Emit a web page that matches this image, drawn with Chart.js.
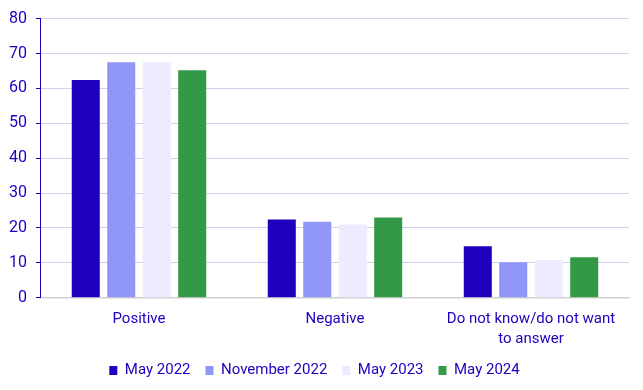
<!DOCTYPE html>
<html>
<head>
<meta charset="utf-8">
<script src="https://cdn.jsdelivr.net/npm/chart.js@4"></script>
<style>
  html, body { margin: 0; padding: 0; background: #fff; }
  #wrap { width: 643px; height: 390px; }
</style>
</head>
<body>
<div id="wrap"><canvas id="myChart"></canvas></div>
<script>
const categories = ['Positive', 'Negative', ['Do not know/do not want', 'to answer']];
const seriesNames = ['May 2022', 'November 2022', 'May 2023', 'May 2024'];
const may2022 = [62.4, 22.4, 14.8];
const nov2022 = [67.5, 21.8, 10.2];
const may2023 = [67.5, 21.0, 10.8];
const may2024 = [65.2, 23.0, 11.6];
const yTicks = [0, 10, 20, 30, 40, 50, 60, 70, 80];

const colors = ['#1e00be', '#9096f5', '#ecebff', '#339946'];
const textColor = '#1e00be';

Chart.defaults.font.family = 'Roboto, sans-serif';
Chart.defaults.font.size = 15;
Chart.defaults.color = textColor;

var canvas = document.getElementById('myChart').getContext('2d');
var data = {
  labels: categories,
  datasets: [may2022, nov2022, may2023, may2024].map(function (vals, i) {
    return {
      label: seriesNames[i],
      data: vals,
      backgroundColor: colors[i],
      borderWidth: 0,
      categoryPercentage: 0.724,
      barPercentage: 0.79,
    };
  }),
};

var option = {
  responsive: true,
  maintainAspectRatio: false,
  animation: false,
  layout: { padding: { top: 13, right: 14, left: 0, bottom: 2 } },
  plugins: {
    legend: {
      position: 'bottom',
      labels: { boxWidth: 8, boxHeight: 9, padding: 15, color: textColor },
    },
    tooltip: { enabled: false },
  },
  scales: {
    x: {
      grid: { display: false, drawTicks: false },
      border: { color: '#d0d0d0', width: 1.5 },
      ticks: { padding: 11, color: textColor, maxRotation: 0, autoSkip: false, font: { lineHeight: 1.34 } },
      // pull the legend up closer to the labels
      afterFit: function (scale) { scale.height -= 12; },
    },
    y: {
      min: 0,
      max: 80,
      afterBuildTicks: function (axis) { axis.ticks = yTicks.map(function (v) { return { value: v }; }); },
      grid: { color: '#d4cfef', tickColor: textColor, tickLength: 5 },
      border: { color: textColor, width: 1 },
      ticks: { padding: 9, color: textColor, font: { size: 16 } },
    },
  },
};

var myBarChart = new Chart(canvas, { type: 'bar', data: data, options: option });
</script>
</body>
</html>
